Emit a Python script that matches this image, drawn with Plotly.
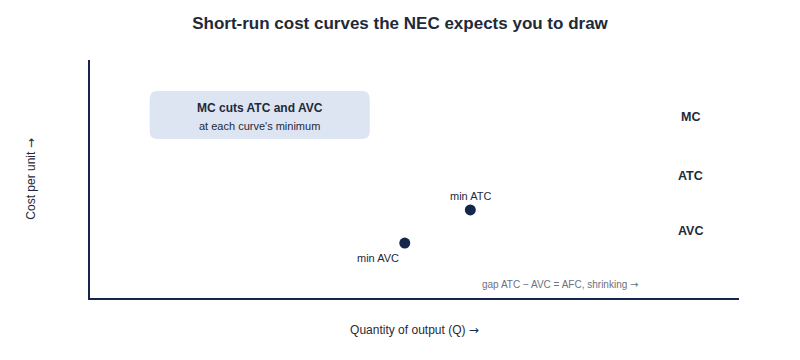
import plotly.graph_objects as go

# ---- data ----
min_labels = ["min ATC", "min AVC"]
min_q = [5.86, 4.85]
min_cost = [3.70, 2.31]

curve_labels = ["MC", "ATC", "AVC"]
curve_label_q = [9.25, 9.25, 9.25]
curve_label_cost = [7.61, 5.13, 2.82]

box_title = "MC cuts ATC and AVC"
box_sub = "at each curve's minimum"
box_q = [0.92, 4.31]
box_cost = [6.68, 8.70]

gap_text = "gap ATC − AVC = AFC, shrinking"
gap_q = 7.24
gap_cost = 0.57

x_title = "Quantity of output (Q)"
y_title = "Cost per unit"

x_range = [0, 10]
y_range = [0, 10]

FONT = "Liberation Sans, Arial, sans-serif"
NAVY = "#14264a"
ARROW = '<span style="font-family:DejaVu Sans">→</span>'

fig = go.Figure()

fig.add_trace(go.Scatter(
    x=min_q, y=min_cost, mode="markers",
    marker=dict(size=11, color=NAVY),
    hoverinfo="skip", showlegend=False,
))

# rounded box
x0, x1 = box_q
y0, y1 = box_cost
rx = 0.12
ry = 0.33
path = (f"M {x0+rx},{y0} L {x1-rx},{y0} Q {x1},{y0} {x1},{y0+ry} "
        f"L {x1},{y1-ry} Q {x1},{y1} {x1-rx},{y1} L {x0+rx},{y1} "
        f"Q {x0},{y1} {x0},{y1-ry} L {x0},{y0+ry} Q {x0},{y0} {x0+rx},{y0} Z")
fig.add_shape(type="path", path=path, xref="x", yref="y",
              fillcolor="#dce5f1", line=dict(width=0), layer="below")

cx = (x0 + x1) / 2
fig.add_annotation(x=cx, y=y0 + (y1 - y0) * 0.64, text=f"<b>{box_title}</b>",
                   showarrow=False, font=dict(family=FONT, size=12, color="#1e2a3a"))
fig.add_annotation(x=cx, y=y0 + (y1 - y0) * 0.28, text=box_sub,
                   showarrow=False, font=dict(family=FONT, size=11, color="#1e2a3a"))

# min labels
fig.add_annotation(x=min_q[0], y=min_cost[0], text=min_labels[0], showarrow=False,
                   yshift=14, font=dict(family=FONT, size=11, color="#1e2a3a"))
fig.add_annotation(x=min_q[1], y=min_cost[1], text=min_labels[1], showarrow=False,
                   xshift=-27, yshift=-15, font=dict(family=FONT, size=11, color="#1e2a3a"))

for lab, q, c in zip(curve_labels, curve_label_q, curve_label_cost):
    fig.add_annotation(x=q, y=c, text=f"<b>{lab}</b>", showarrow=False,
                       font=dict(family=FONT, size=12.5, color="#1e2a3a"))

fig.add_annotation(x=gap_q, y=gap_cost, text=f"{gap_text} {ARROW}", showarrow=False,
                   font=dict(family=FONT, size=10, color="#6b7280"))

axis_common = dict(showgrid=False, zeroline=False, showticklabels=False, ticks="",
                   showline=True, linecolor=NAVY, linewidth=2, fixedrange=True)

fig.update_layout(
    width=800, height=360,
    margin=dict(l=90, r=61, t=60, b=62),
    paper_bgcolor="white", plot_bgcolor="white",
    title=dict(text="<b>Short-run cost curves the NEC expects you to draw</b>",
               x=0.5, xanchor="center", y=0.937, yanchor="middle",
               font=dict(family=FONT, size=17, color="#1e2a3a")),
    xaxis=dict(range=x_range, title=dict(text=f"{x_title} {ARROW}", standoff=27,
               font=dict(family=FONT, size=12, color="#1e2a3a")), **axis_common),
    yaxis=dict(range=y_range, title=dict(text=f"{y_title} {ARROW}", standoff=50,
               font=dict(family=FONT, size=12, color="#1e2a3a")), **axis_common),
    font=dict(family=FONT),
)

fig.write_html("out.html")
